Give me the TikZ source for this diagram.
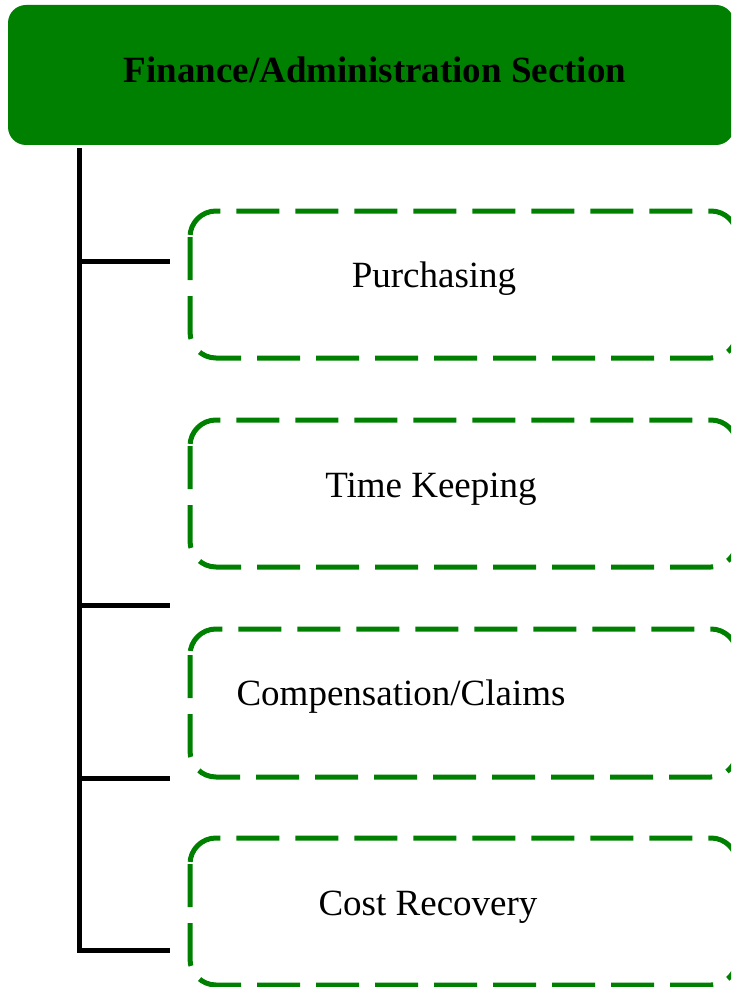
\documentclass[tikz,border=0pt]{standalone}
\usepackage{fontspec}
\setmainfont{Liberation Serif}
\definecolor{fgreen}{HTML}{008000}
\begin{document}
\begin{tikzpicture}[x=1pt,y=-1pt,
  headbox/.style={draw=none,fill=fgreen,rounded corners=18pt},
  subbox/.style={draw=fgreen,line width=5pt,rounded corners=26pt,dash pattern=on 43pt off 16pt},
  trunk/.style={draw=black,line width=5pt},
  lbl/.style={font=\fontsize{37}{44}\selectfont,inner sep=0pt},
]
\useasboundingbox (0,0) rectangle (731,987);
\clip (0,0) rectangle (731,987);
% header
\path[headbox] (8,5) rectangle (734,145);
\node[lbl,font=\fontsize{37}{44}\selectfont\bfseries] (head) at (375,70) {Finance/Administration Section};
% dashed boxes
\draw[subbox] (190,211) rectangle (737,358);
\draw[subbox] (190,420) rectangle (737,567);
\draw[subbox] (190,629) rectangle (737,777);
\draw[subbox] (190,838) rectangle (737,985);
\node[lbl] (b1) at (434,279) {Purchasing};
\node[lbl] (b2) at (431,489) {Time Keeping};
\node[lbl] (b3) at (401,697) {Compensation/Claims};
\node[lbl] (b4) at (428,907) {Cost Recovery};
% trunk and ticks
\coordinate (t0) at (79,148);
\coordinate (t1) at (79,261);
\coordinate (t2) at (79,605);
\coordinate (t3) at (79,778);
\coordinate (t4) at (79,950);
\coordinate (e1) at (170,261);
\coordinate (e2) at (170,605);
\coordinate (e3) at (170,778);
\coordinate (e4) at (170,950);
\draw[trunk] (t0) -- (t4) -- (e4);
\draw[trunk] (t1) -- (e1);
\draw[trunk] (t2) -- (e2);
\draw[trunk] (t3) -- (e3);
\end{tikzpicture}
\end{document}
